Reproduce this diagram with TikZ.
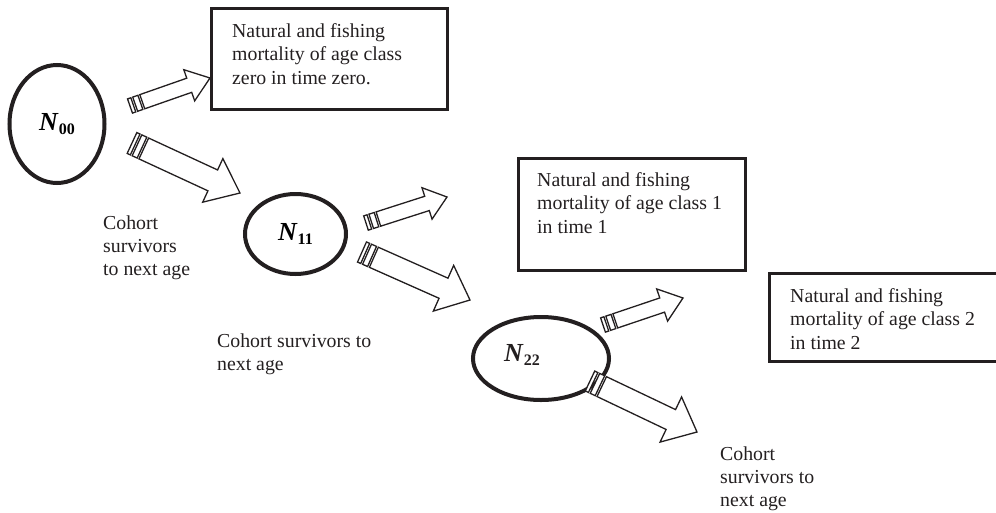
\documentclass[tikz,border=0pt]{standalone}
\usepackage{fontspec}
\setmainfont{Liberation Serif}
\usetikzlibrary{calc,shapes.geometric}
\definecolor{ink}{HTML}{231F20}
\tikzset{
  popl/.style={draw=ink, ellipse, line width=4pt, inner sep=0pt, outer sep=0pt},
  infobox/.style={draw=ink, rectangle, line width=3pt, inner sep=0pt, outer sep=0pt},
  boxtext/.style={anchor=north west, inner sep=0pt, align=left, text=ink,
    font=\fontsize{19.8}{23.3}\selectfont},
  nlabel/.style={inner sep=0pt, text=ink},
  arr/.style={draw=ink, fill=white, line width=1.3pt, line join=miter},
}
\newcommand{\Nbold}[1]{\fontsize{26}{26}\selectfont\textbf{\textit{N}}\raisebox{-4.5pt}{\fontsize{16}{16}\selectfont\textbf{#1}}}
% #1 tail, #2 tip, #3 shaft half width, #4 head half width, #5 head length
\newcommand{\stripearrow}[5]{%
  \draw[arr] ($(#1)!0pt!(#2)!#3!90:(#2)$) -- ($(#1)!3.5pt!(#2)!#3!90:(#2)$)
    -- ($(#1)!3.5pt!(#2)!#3!-90:(#2)$) -- ($(#1)!0pt!(#2)!#3!-90:(#2)$) -- cycle;
  \draw[arr] ($(#1)!5.5pt!(#2)!#3!90:(#2)$) -- ($(#1)!11pt!(#2)!#3!90:(#2)$)
    -- ($(#1)!11pt!(#2)!#3!-90:(#2)$) -- ($(#1)!5.5pt!(#2)!#3!-90:(#2)$) -- cycle;
  \draw[arr] ($(#1)!13pt!(#2)!#3!90:(#2)$)
    -- ($(#2)!#5!(#1)!#3!-90:(#1)$)
    -- ($(#2)!#5!(#1)!#4!-90:(#1)$)
    -- (#2)
    -- ($(#2)!#5!(#1)!#4!90:(#1)$)
    -- ($(#2)!#5!(#1)!#3!90:(#1)$)
    -- ($(#1)!13pt!(#2)!#3!-90:(#2)$) -- cycle;
}
\begin{document}
\begin{tikzpicture}[x=1pt,y=-1pt]
\useasboundingbox (0,0) rectangle (996,512);
\clip (0,0) rectangle (996,512);

% populations
\node[popl, minimum width=95pt, minimum height=118pt] (n00) at (57,124) {\Nbold{00}};
\node[popl, minimum width=101pt, minimum height=80pt] (n11) at (295.5,234) {\Nbold{11}};
\node[popl, minimum width=136pt, minimum height=83pt] (n22) at (541,358.5) {};
\node[nlabel] (l22) at (522,355) {\Nbold{22}};

% boxes
\node[infobox, minimum width=236pt, minimum height=101pt] (box1) at (329.5,59) {};
\node[infobox, minimum width=227pt, minimum height=112pt] (box2) at (632,214.5) {};
\node[infobox, minimum width=240.5pt, minimum height=88pt] (box3) at (889.75,317.5) {};

\node[boxtext] (t1) at (232,23.3) {Natural and fishing\\mortality of age class\\zero in time zero.};
\node[boxtext] (t2) at (537,172.3) {Natural and fishing\\mortality of age class 1\\in time 1};
\node[boxtext] (t3) at (790,288.3) {Natural and fishing\\mortality of age class 2\\in time 2};

% survivor labels
\node[boxtext] (s1) at (103,215.3) {Cohort\\survivors\\to next age};
\node[boxtext] (s2) at (217,333.3) {Cohort survivors to\\next age};
\node[boxtext] (s3) at (720,446.3) {Cohort\\survivors to\\next age};

% arrows
\coordinate (a1t) at (130,106); \coordinate (a1h) at (210,78);
\coordinate (a2t) at (132,143); \coordinate (a2h) at (240,193);
\coordinate (a3t) at (366,223); \coordinate (a3h) at (447,197);
\coordinate (a4t) at (362,252); \coordinate (a4h) at (470,300);
\coordinate (a5t) at (603,325); \coordinate (a5h) at (683,298);
\coordinate (a6t) at (590,381); \coordinate (a6h) at (697,432);

\stripearrow{a1t}{a1h}{7.5pt}{16.5pt}{22pt}
\stripearrow{a2t}{a2h}{11.5pt}{24pt}{30pt}
\stripearrow{a3t}{a3h}{7.5pt}{16.5pt}{21pt}
\stripearrow{a4t}{a4h}{11pt}{25pt}{29pt}
\stripearrow{a5t}{a5h}{7.5pt}{17pt}{22pt}
\stripearrow{a6t}{a6h}{11pt}{25pt}{29pt}
\end{tikzpicture}
\end{document}
